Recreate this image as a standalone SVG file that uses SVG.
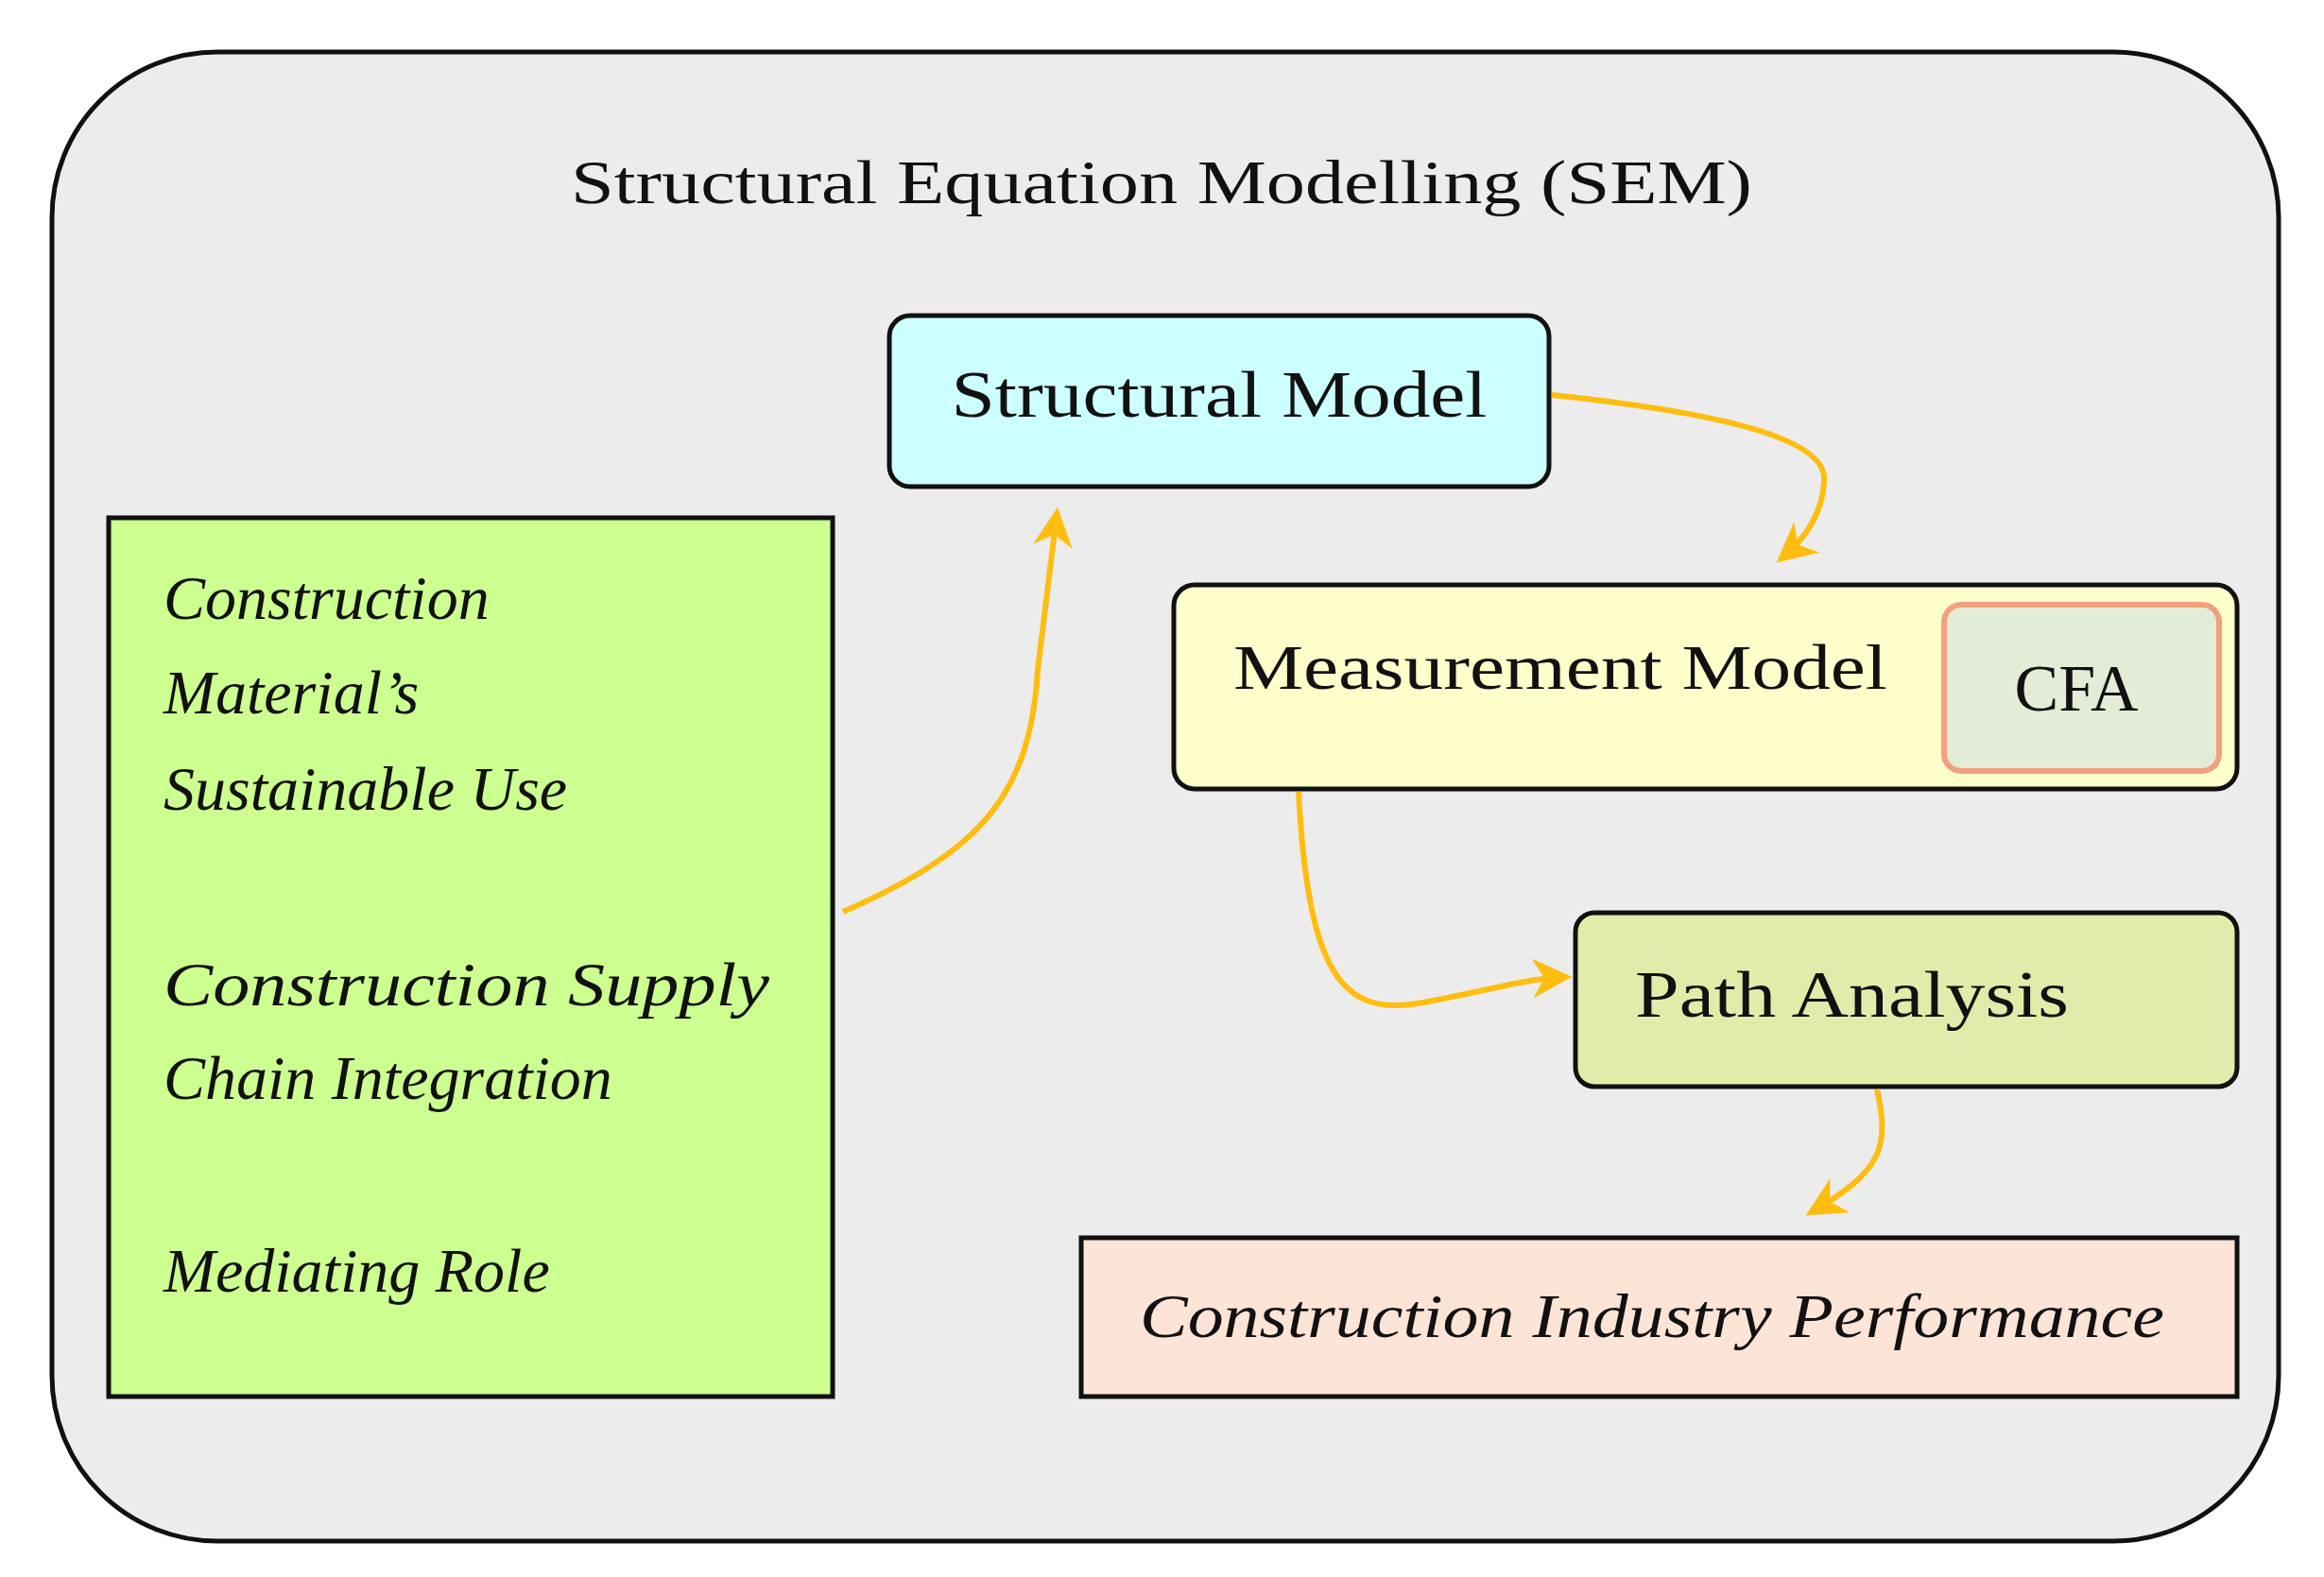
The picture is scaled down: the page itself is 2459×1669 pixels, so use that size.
<svg xmlns="http://www.w3.org/2000/svg" width="2459" height="1669" viewBox="0 0 2459 1669">
<style>
.box{stroke:#111;stroke-width:5}
.t{font-family:"Liberation Serif",serif;fill:#111}
.i{font-family:"Liberation Serif",serif;font-style:italic;fill:#111;font-size:66px}
.c{fill:none;stroke:#ffbd10;stroke-width:6}
</style>
<defs>
<marker id="ah" viewBox="0 0 10 10" refX="8" refY="5" markerWidth="7" markerHeight="7" markerUnits="strokeWidth" orient="auto">
<path d="M0,0 L10,5 L0,10 L3,5 z" fill="#ffbd10"/>
</marker>
</defs>
<rect width="2459" height="1669" fill="#fff"/>
<g id="sem">
<rect x="55" y="55" width="2356" height="1576" rx="175" fill="#ececec" stroke="#111" stroke-width="5"/>
<text class="t" x="1229" y="215" font-size="66" text-anchor="middle" textLength="1250" lengthAdjust="spacingAndGlyphs">Structural Equation Modelling (SEM)</text>
</g>
<g id="structural">
<rect class="box" x="941" y="334" width="698" height="181" rx="22" fill="#ccffff"/>
<text class="t" x="1290" y="441" font-size="70" text-anchor="middle" textLength="567" lengthAdjust="spacingAndGlyphs">Structural Model</text>
</g>
<g id="factors">
<rect class="box" x="115" y="548" width="766" height="930" fill="#ccff8f"/>
<text class="i" x="173" y="655">Construction</text>
<text class="i" x="173" y="755">Material’s</text>
<text class="i" x="173" y="857">Sustainable Use</text>
<text class="i" x="173" y="1064" textLength="641" lengthAdjust="spacingAndGlyphs">Construction Supply</text>
<text class="i" x="173" y="1163">Chain Integration</text>
<text class="i" x="173" y="1367">Mediating Role</text>
</g>
<g id="measurement">
<rect class="box" x="1242" y="619" width="1125" height="216" rx="22" fill="#ffffcc"/>
<text class="t" x="1305" y="729" font-size="68" textLength="692" lengthAdjust="spacingAndGlyphs">Measurement Model</text>
</g>
<g id="cfa">
<rect x="2057" y="640" width="291" height="176" rx="18" fill="#e2ecd6" stroke="#f2a07e" stroke-width="6"/>
<text class="t" x="2197" y="752" font-size="70" text-anchor="middle">CFA</text>
</g>
<g id="path">
<rect class="box" x="1667" y="966" width="700" height="184" rx="20" fill="#e2eba9"/>
<text class="t" x="1730" y="1076" font-size="70" textLength="459" lengthAdjust="spacingAndGlyphs">Path Analysis</text>
</g>
<g id="performance">
<rect class="box" x="1144" y="1310" width="1223" height="168" fill="#fce4d6"/>
<text class="i" x="1206" y="1415" textLength="1084" lengthAdjust="spacingAndGlyphs">Construction Industry Performance</text>
</g>
<g id="connectors">
<path class="c" d="M892,965 C1040,900 1090,840 1098,709 L1118,545" marker-end="url(#ah)"/>
<path class="c" d="M1642,418 C1850,440 1935,470 1930,510 C1928,545 1910,570 1886,590" marker-end="url(#ah)"/>
<path class="c" d="M1374,838 C1384,1030 1420,1075 1500,1062 C1560,1052 1610,1036 1655,1034" marker-end="url(#ah)"/>
<path class="c" d="M1986,1153 C2000,1215 1990,1240 1918,1282" marker-end="url(#ah)"/>
</g>
</svg>
